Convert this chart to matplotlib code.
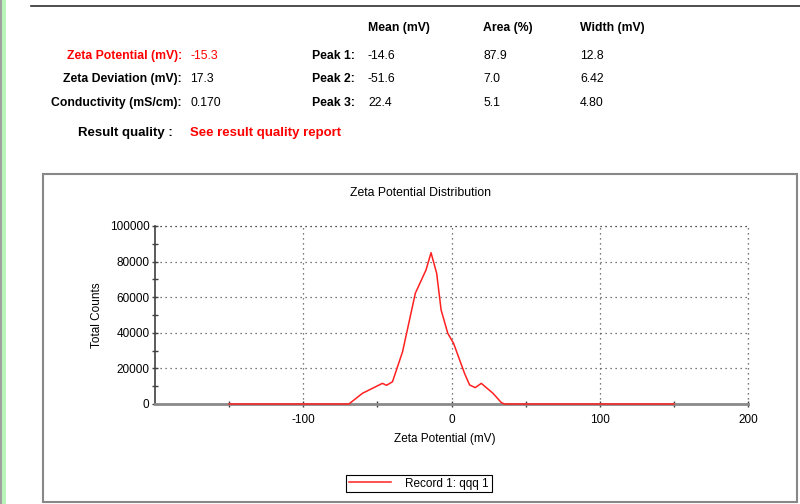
import matplotlib
matplotlib.use("Agg")
import matplotlib.pyplot as plt
from matplotlib.patches import Rectangle
from matplotlib.lines import Line2D

plt.rcParams['font.family'] = ['Liberation Sans', 'DejaVu Sans']

# summary table
summary_labels = ["Zeta Potential (mV):", "Zeta Deviation (mV):", "Conductivity (mS/cm):"]
summary_values = ["-15.3", "17.3", "0.170"]
peak_labels = ["Peak 1:", "Peak 2:", "Peak 3:"]
peak_headers = ["Mean (mV)", "Area (%)", "Width (mV)"]
peak_mean = ["-14.6", "-51.6", "22.4"]
peak_area = ["87.9", "7.0", "5.1"]
peak_width = ["12.8", "6.42", "4.80"]
quality_label = "Result quality :"
quality_value = "See result quality report"

# distribution curve
zeta_mv = [-150, -69.2, -60.1, -46.6, -43.8, -39.8, -33.0, -24.4, -17.2, -13.8,
           -10.0, -7.0, -2.5, 1.4, 8.8, 12.2, 16.0, 20.1, 28.0, 33.7, 35.9, 150]
counts = [0, 0, 6000, 11600, 10500, 12500, 29400, 62200, 75300, 85000,
          73400, 52800, 39700, 34100, 17200, 10700, 9200, 11600, 6000, 700, 0, 0]

x_ticks = [-100, 0, 100, 200]
x_minor = [-150, -50, 50, 150]
y_ticks = [0, 20000, 40000, 60000, 80000, 100000]

W, H = 800, 504
fig = plt.figure(figsize=(8, 5.04), dpi=100)

def fx(px):
    return px / W

def fy(py):
    return 1 - py / H

# page decorations
fig.patches.append(Rectangle((0, 0), fx(2), 1, transform=fig.transFigure,
                             color='#a0a0a0', lw=0))
fig.patches.append(Rectangle((fx(2), 0), fx(4), 1, transform=fig.transFigure,
                             color='#b9f5b9', lw=0))
fig.lines.append(Line2D([fx(31), 1], [fy(6), fy(6)], transform=fig.transFigure,
                        color='#303030', lw=1.2))
fig.patches.append(Rectangle((fx(42.5), fy(502)), fx(797 - 42.5), (502 - 174) / H,
                             transform=fig.transFigure, fill=False,
                             ec='#888888', lw=1.5))

fs = 8.8
row_y = [56, 79.3, 102.7]
fig.text(fx(368), fy(28.3), peak_headers[0], fontsize=fs, weight='bold', va='center')
fig.text(fx(483), fy(28.3), peak_headers[1], fontsize=fs, weight='bold', va='center')
fig.text(fx(580), fy(28.3), peak_headers[2], fontsize=fs, weight='bold', va='center')
for i in range(3):
    c = 'red' if i == 0 else 'black'
    fig.text(fx(182), fy(row_y[i]), summary_labels[i], fontsize=fs, weight='bold',
             va='center', ha='right', color=c)
    fig.text(fx(190.5), fy(row_y[i]), summary_values[i], fontsize=fs,
             va='center', color=c)
    fig.text(fx(311.5), fy(row_y[i]), peak_labels[i], fontsize=fs, weight='bold',
             va='center')
    fig.text(fx(368), fy(row_y[i]), peak_mean[i], fontsize=fs, va='center')
    fig.text(fx(483), fy(row_y[i]), peak_area[i], fontsize=fs, va='center')
    fig.text(fx(580), fy(row_y[i]), peak_width[i], fontsize=fs, va='center')
fig.text(fx(78), fy(133.3), quality_label, fontsize=9.5, weight='bold', va='center')
fig.text(fx(190.5), fy(133.3), quality_value, fontsize=9.5, weight='bold',
         va='center', color='red')

# chart
ax = fig.add_axes([fx(155), fy(404), fx(748 - 155), (404 - 226) / H])
ax.plot(zeta_mv, counts, color='#ff2020', lw=1.1, clip_on=False, zorder=5,
        label="Record 1: qqq 1")
ax.set_xlim(-200, 200)
ax.set_ylim(0, 100000)
ax.set_xticks(x_ticks)
ax.set_xticklabels([str(t) for t in x_ticks])
ax.set_xticks(x_minor, minor=True)
ax.set_yticks(y_ticks)
ax.set_yticklabels([str(t) for t in y_ticks])
ax.set_yticks(range(10000, 100000, 20000), minor=True)
ax.tick_params(labelsize=8.5, direction='inout', length=5, width=1,
               color='#404040', pad=1.5)
ax.tick_params(which='minor', direction='inout', length=5, width=1, color='#404040')
ax.tick_params(axis='x', pad=5)
for s in ['top', 'right']:
    ax.spines[s].set_visible(False)
ax.spines['left'].set_color('#404040')
ax.spines['left'].set_linewidth(1.2)
ax.spines['bottom'].set_color('#8a8a8a')
ax.spines['bottom'].set_linewidth(2)
ax.grid(True, which='major', linestyle=(0, (1, 3)), color='#505050', lw=0.9)
# top and right edges drawn as dotted grid lines
ax.axhline(100000, linestyle=(0, (1, 3)), color='#505050', lw=0.9, clip_on=False)
ax.axvline(200, linestyle=(0, (1, 3)), color='#505050', lw=0.9, clip_on=False)

fig.text(fx(420), fy(193), "Zeta Potential Distribution", fontsize=8.8,
         ha='center', va='center')
fig.text(fx(97), fy(315), "Total Counts", fontsize=8.5, rotation=90,
         ha='center', va='center')
fig.text(fx(445), fy(439), "Zeta Potential (mV)", fontsize=8.5,
         ha='center', va='center')

leg = ax.legend(loc='center', bbox_to_anchor=(fx(419), fy(483.5)),
                bbox_transform=fig.transFigure, fontsize=8.5, fancybox=False,
                framealpha=1, edgecolor='black', handlelength=3.5,
                borderpad=0.25, handletextpad=1.2)
leg.get_frame().set_linewidth(0.8)

fig.savefig("out.png", dpi=100)
